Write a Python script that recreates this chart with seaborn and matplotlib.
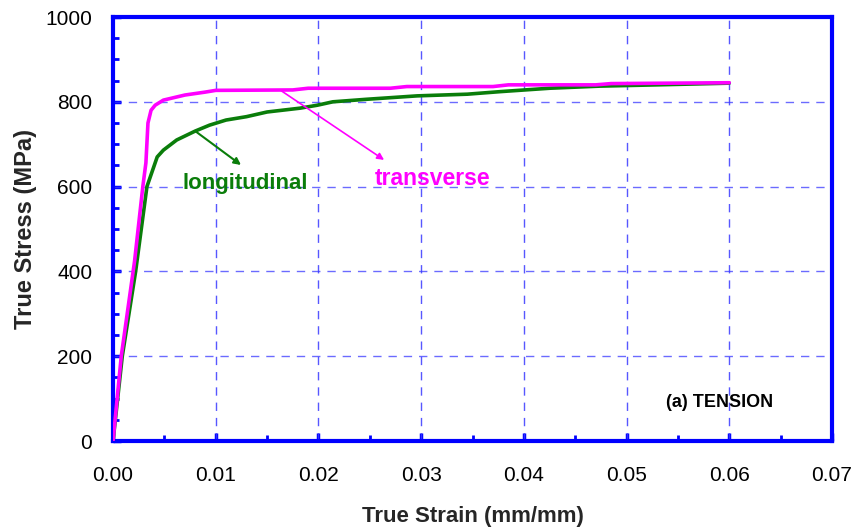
import matplotlib.pyplot as plt
import numpy as np
import pandas as pd
import seaborn as sns

# Stress-strain curves
long_strain = [0.0, 0.0009, 0.0022, 0.0033, 0.0043, 0.0049, 0.0062, 0.0080, 0.0094,
               0.0110, 0.0130, 0.0150, 0.0182, 0.0199, 0.0214, 0.0247, 0.0296, 0.0345,
               0.0377, 0.0425, 0.0474, 0.0530, 0.0600]
long_stress = [0, 200, 400, 600, 670, 686, 710, 731, 745,
               757, 765, 776, 785, 792, 800, 806, 814, 818,
               824, 832, 837, 840, 844]

trans_strain = [0.0, 0.0008, 0.0021, 0.0029, 0.0032, 0.0034, 0.0037, 0.0041, 0.0049,
                0.0070, 0.0090, 0.0100, 0.0175, 0.0190, 0.0270, 0.0286, 0.0370, 0.0385,
                0.0470, 0.0485, 0.0600]
trans_stress = [0, 200, 425, 600, 656, 750, 780, 792, 804,
                816, 823, 827, 828, 832, 832, 836, 836, 840,
                840, 843, 845]

x_ticks = [0.0, 0.01, 0.02, 0.03, 0.04, 0.05, 0.06, 0.07]
y_ticks = [0, 200, 400, 600, 800, 1000]

GREEN = "#0a7d0a"
MAGENTA = "#ff00ff"
BLUE = "#0000ff"

sns.set_style("white")
plt.rcParams['font.family'] = ['Liberation Sans', 'DejaVu Sans']

df = pd.concat([
    pd.DataFrame({"strain": long_strain, "stress": long_stress, "dir": "longitudinal"}),
    pd.DataFrame({"strain": trans_strain, "stress": trans_stress, "dir": "transverse"}),
])

fig = plt.figure(figsize=(8.57, 5.30), dpi=100)
ax = fig.add_axes([0.1319, 0.1679, 0.8389, 0.8000])

# grid first so curves sit on top
for x in x_ticks[1:-1]:
    ax.axvline(x, color="#3a3aff", lw=1.0, ls=(0, (6, 5)), alpha=0.85, zorder=1)
for y in y_ticks[1:-1]:
    ax.axhline(y, color="#3a3aff", lw=1.0, ls=(0, (6, 5)), alpha=0.75, zorder=1)

sns.lineplot(data=df, x="strain", y="stress", hue="dir", sort=False,
             palette={"longitudinal": GREEN, "transverse": MAGENTA},
             hue_order=["longitudinal", "transverse"],
             lw=2.6, legend=False, ax=ax, zorder=3)

ax.set_xlim(0, 0.07)
ax.set_ylim(0, 1000)
ax.set_xticks(x_ticks)
ax.set_yticks(y_ticks)
ax.set_xticklabels([f"{v:.2f}" for v in x_ticks])
ax.set_yticklabels([str(v) for v in y_ticks])
ax.set_xticks(np.arange(0, 0.0701, 0.005), minor=True)
ax.set_yticks(np.arange(0, 1001, 50), minor=True)

ax.tick_params(which="both", direction="in", color=BLUE, bottom=True, left=True,
               top=False, right=False, labelsize=15, labelcolor="black")
ax.tick_params(which="major", length=6, width=2.5)
ax.tick_params(which="minor", length=4, width=2)
ax.tick_params(axis="y", pad=15)
ax.tick_params(axis="x", pad=18)

for sp in ax.spines.values():
    sp.set_color(BLUE)
    sp.set_linewidth(3)
    sp.set_visible(True)

ax.set_xlabel("True Strain (mm/mm)", fontsize=16, fontweight="bold", labelpad=15)
ax.set_ylabel("True Stress (MPa)", fontsize=17, fontweight="bold", labelpad=6)

ax.annotate("", xy=(0.01246, 651), xytext=(0.0080, 731),
            arrowprops=dict(arrowstyle="-|>", color=GREEN, lw=1.5,
                            mutation_scale=10, shrinkA=0, shrinkB=0), zorder=4)
ax.annotate("", xy=(0.02639, 663), xytext=(0.01626, 828),
            arrowprops=dict(arrowstyle="-|>", color=MAGENTA, lw=1.2,
                            mutation_scale=10, shrinkA=0, shrinkB=0), zorder=4)

ax.text(0.01285, 608, "longitudinal", color=GREEN, fontsize=16, fontweight="bold",
        ha="center", va="center", zorder=5)
ax.text(0.0311, 618, "transverse", color=MAGENTA, fontsize=16.5, fontweight="bold",
        ha="center", va="center", zorder=5)
ax.text(0.0591, 92, "(a) TENSION", color="black", fontsize=13, fontweight="bold",
        ha="center", va="center", zorder=5)

fig.savefig("out.png", dpi=100)
plt.close(fig)
